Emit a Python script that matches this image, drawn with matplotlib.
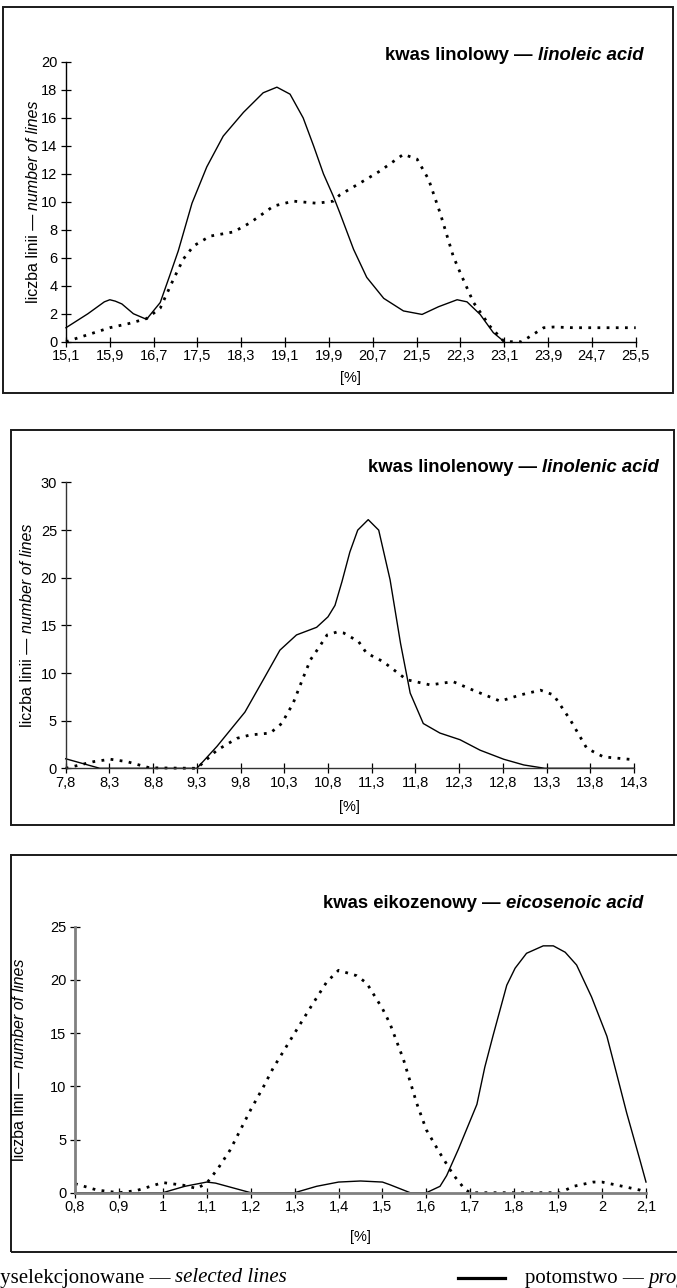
import matplotlib
matplotlib.use("Agg")
import matplotlib.pyplot as plt
from matplotlib.patches import Rectangle

W, H = 677, 1288

# ---- dane: kwas linolowy ----
lin_ticks = [15.1, 15.9, 16.7, 17.5, 18.3, 19.1, 19.9, 20.7, 21.5, 22.3, 23.1, 23.9, 24.7, 25.5]
lin_labels = ["15,1", "15,9", "16,7", "17,5", "18,3", "19,1", "19,9", "20,7", "21,5", "22,3", "23,1", "23,9", "24,7", "25,5"]
lin_x_prog = [15.1, 15.5, 15.8, 15.9, 16.0, 16.12, 16.33, 16.57, 16.82, 17.0, 17.15, 17.4, 17.67, 17.97, 18.34,
              18.7, 18.95, 19.19, 19.43, 19.62, 19.8, 19.98, 20.1, 20.35, 20.59, 20.9, 21.26, 21.6, 21.9, 22.24,
              22.42, 22.66, 22.9, 23.1]
lin_y_prog = [1.0, 2.0, 2.85, 3.0, 2.9, 2.7, 2.0, 1.6, 2.8, 4.8, 6.5, 9.9, 12.5, 14.7, 16.4,
              17.8, 18.2, 17.7, 16.0, 14.0, 12.0, 10.4, 9.2, 6.6, 4.6, 3.1, 2.2, 1.95, 2.5, 3.0,
              2.85, 1.95, 0.65, 0.0]
lin_x_sel = [15.1, 15.5, 15.9, 16.25, 16.57, 16.82, 17.06, 17.24, 17.43, 17.73, 18.16, 18.46, 18.89, 19.25,
             19.68, 19.98, 20.1, 20.47, 20.83, 21.26, 21.51, 21.72, 21.93, 22.17, 22.3, 22.54, 22.84, 23.1,
             23.42, 23.82, 24.0, 24.37, 25.5]
lin_y_sel = [0.0, 0.5, 1.0, 1.3, 1.65, 2.4, 4.45, 5.9, 6.85, 7.55, 7.85, 8.5, 9.7, 10.05,
             9.9, 10.05, 10.5, 11.35, 12.2, 13.4, 13.05, 11.6, 9.2, 6.1, 4.9, 2.8, 1.1, 0.0,
             0.0, 1.0, 1.05, 1.0, 1.0]

# ---- dane: kwas linolenowy ----
len_ticks = [7.8, 8.3, 8.8, 9.3, 9.8, 10.3, 10.8, 11.3, 11.8, 12.3, 12.8, 13.3, 13.8, 14.3]
len_labels = ["7,8", "8,3", "8,8", "9,3", "9,8", "10,3", "10,8", "11,3", "11,8", "12,3", "12,8", "13,3", "13,8", "14,3"]
len_x_prog = [7.8, 8.19, 9.3, 9.53, 9.85, 10.06, 10.25, 10.44, 10.67, 10.8, 10.88, 10.96, 11.05, 11.14,
              11.26, 11.38, 11.51, 11.63, 11.74, 11.89, 12.08, 12.31, 12.54, 12.81, 13.04, 13.28, 14.3]
len_y_prog = [1.0, 0.0, 0.0, 2.3, 5.9, 9.3, 12.4, 14.0, 14.8, 15.9, 17.1, 19.6, 22.7, 25.0,
              26.1, 25.0, 19.8, 13.1, 7.9, 4.7, 3.7, 3.0, 1.9, 0.95, 0.35, 0.0, 0.0]
len_x_sel = [7.8, 8.12, 8.31, 8.5, 8.76, 9.3, 9.53, 9.76, 9.91, 10.14, 10.27, 10.4, 10.52, 10.6, 10.69,
             10.79, 10.9, 10.98, 11.15, 11.24, 11.43, 11.7, 11.97, 12.23, 12.46, 12.77, 13.0, 13.23,
             13.38, 13.57, 13.76, 13.95, 14.3]
len_y_sel = [0.0, 0.7, 0.95, 0.7, 0.05, 0.0, 1.9, 3.15, 3.5, 3.7, 4.7, 6.8, 9.6, 11.4, 12.6,
             14.0, 14.3, 14.2, 13.3, 12.1, 11.2, 9.3, 8.75, 9.1, 8.2, 7.05, 7.7, 8.2,
             7.7, 5.1, 2.1, 1.2, 0.9]

# ---- dane: kwas eikozenowy ----
eic_ticks = [0.8, 0.9, 1.0, 1.1, 1.2, 1.3, 1.4, 1.5, 1.6, 1.7, 1.8, 1.9, 2.0, 2.1]
eic_labels = ["0,8", "0,9", "1", "1,1", "1,2", "1,3", "1,4", "1,5", "1,6", "1,7", "1,8", "1,9", "2", "2,1"]
eic_x_prog = [0.8, 1.0, 1.05, 1.1, 1.12, 1.2, 1.3, 1.35, 1.4, 1.45, 1.5, 1.517, 1.563, 1.6, 1.631,
              1.646, 1.673, 1.715, 1.733, 1.752, 1.783, 1.802, 1.828, 1.866, 1.889, 1.916, 1.942,
              1.976, 2.011, 2.033, 2.056, 2.086, 2.1]
eic_y_prog = [0.0, 0.0, 0.6, 1.0, 0.9, 0.0, 0.0, 0.6, 1.0, 1.1, 1.0, 0.75, 0.0, 0.0, 0.6,
              1.6, 4.1, 8.3, 11.8, 14.8, 19.5, 21.1, 22.5, 23.2, 23.2, 22.6, 21.4,
              18.4, 14.7, 11.2, 7.5, 3.1, 1.0]
eic_x_sel = [0.8, 0.85, 0.9, 0.94, 1.0, 1.047, 1.077, 1.1, 1.126, 1.153, 1.2, 1.229, 1.251, 1.3, 1.339,
             1.373, 1.4, 1.441, 1.464, 1.5, 1.517, 1.548, 1.578, 1.6, 1.631, 1.661, 1.688, 1.7,
             1.904, 1.935, 1.98, 2.0, 2.041, 2.086, 2.1]
eic_y_sel = [0.85, 0.25, 0.0, 0.2, 0.95, 0.7, 0.4, 0.9, 2.3, 4.0, 7.8, 9.95, 11.7, 15.0, 17.6,
             19.8, 20.9, 20.4, 19.7, 17.3, 15.9, 12.5, 8.4, 5.9, 3.7, 1.7, 0.3, 0.0,
             0.0, 0.6, 1.0, 1.0, 0.65, 0.25, 0.05]

plt.rcParams['font.family'] = ['Liberation Sans', 'DejaVu Sans']
plt.rcParams['lines.scale_dashes'] = False

fig = plt.figure(figsize=(W / 100, H / 100), dpi=100)
renderer = fig.canvas.get_renderer()


def px_rect(left, top, right, bottom):
    return [left / W, 1 - bottom / H, (right - left) / W, (bottom - top) / H]


def rich_text(x, y, parts, size, ha='right', rotation=0):
    # kilka kawalkow tekstu (rozne style) jeden za drugim, wspolrzedne w pikselach od gory
    texts = []
    for s, style, weight in parts:
        t = fig.text(0, 0, s, fontsize=size, style=style, weight=weight, ha='left', va='center',
                     rotation=rotation, rotation_mode='anchor')
        texts.append(t)
    if rotation == 0:
        sizes = [t.get_window_extent(renderer).width for t in texts]
    else:
        sizes = [t.get_window_extent(renderer).height for t in texts]
    total = sum(sizes)
    if ha == 'right':
        pos = x - total
    elif ha == 'center':
        pos = (x if rotation == 0 else (H - y)) - total / 2
    else:
        pos = x
    for t, s in zip(texts, sizes):
        if rotation == 0:
            t.set_position((pos / W, 1 - y / H))
        else:
            t.set_position((x / W, pos / H))
        pos += s


panels = [
    dict(box=(3, 7, 673, 393), ax=(66, 62, 635.7, 341.7), ymax=20, ystep=2,
         ticks=lin_ticks, labels=lin_labels, prog=(lin_x_prog, lin_y_prog), sel=(lin_x_sel, lin_y_sel),
         title=("kwas linolowy — ", "linoleic acid"), title_pos=(643, 55), ylab_x=34, xlab_y=378,
         axcol='black', axlw=1.0),
    dict(box=(10.8, 430, 673.5, 825), ax=(65.7, 482.5, 634, 768.3), ymax=30, ystep=5,
         ticks=len_ticks, labels=len_labels, prog=(len_x_prog, len_y_prog), sel=(len_x_sel, len_y_sel),
         title=("kwas linolenowy — ", "linolenic acid"), title_pos=(658.5, 468), ylab_x=28, xlab_y=807,
         axcol='#333333', axlw=1.0),
    dict(box=(10.8, 855, 700, 1252), ax=(75, 926.7, 646, 1192.7), ymax=25, ystep=5,
         ticks=eic_ticks, labels=eic_labels, prog=(eic_x_prog, eic_y_prog), sel=(eic_x_sel, eic_y_sel),
         title=("kwas eikozenowy — ", "eicosenoic acid"), title_pos=(643, 903), ylab_x=19, xlab_y=1237,
         axcol='#808080', axlw=2.0),
]

for p in panels:
    bl, bt, br, bb = p['box']
    fig.add_artist(Rectangle((bl / W, 1 - bb / H), (br - bl) / W, (bb - bt) / H, transform=fig.transFigure,
                             fill=False, edgecolor='#1a1a1a', linewidth=1.4))

    ax = fig.add_axes(px_rect(*p['ax']))
    ax.patch.set_alpha(0)
    ax.plot(p['sel'][0], p['sel'][1], color='black', linewidth=2.0, dashes=(2.0, 4.6), solid_capstyle='butt',
            dash_capstyle='butt', clip_on=False, zorder=3)
    ax.plot(p['prog'][0], p['prog'][1], color='black', linewidth=1.0, clip_on=False, zorder=2)
    ax.set_xlim(p['ticks'][0], p['ticks'][-1])
    ax.set_ylim(0, p['ymax'])
    ax.set_xticks(p['ticks'])
    ax.set_xticklabels(p['labels'])
    ax.set_yticks(range(0, p['ymax'] + 1, p['ystep']))
    for side in ['top', 'right']:
        ax.spines[side].set_visible(False)
    for side in ['left', 'bottom']:
        ax.spines[side].set_color(p['axcol'])
        ax.spines[side].set_linewidth(p['axlw'])
        ax.spines[side].set_zorder(4)
    ax.tick_params(direction='inout', length=6.5, width=0.9, color='black', labelsize=10.5, pad=2)
    ax.tick_params(axis='y', pad=3)

    a_l, a_t, a_r, a_b = p['ax']
    fig.text(((a_l + a_r) / 2) / W, 1 - p['xlab_y'] / H, "[%]", fontsize=10.5, ha='center', va='center')
    rich_text(p['title_pos'][0], p['title_pos'][1],
              [(p['title'][0], 'normal', 'bold'), (p['title'][1], 'italic', 'bold')], 13.3, ha='right')
    rich_text(p['ylab_x'], (a_t + a_b) / 2,
              [("liczba linii — ", 'normal', 'normal'), ("number of lines", 'italic', 'normal')],
              11.5, ha='center', rotation=90)

# legenda pod wykresami (przycieta na brzegach, jak w oryginale)
leg_y = 1 - 1278 / H
t1 = fig.text(0, leg_y, "wyselekcjonowane — ", fontsize=15, family='Liberation Serif', ha='left', va='center')
t2 = fig.text(0, leg_y, "selected lines", fontsize=15, family='Liberation Serif', style='italic',
              ha='left', va='center')
w1 = t1.get_window_extent(renderer).width
w2 = t2.get_window_extent(renderer).width
t1.set_x((287 - w1 - w2) / W)
t2.set_x((287 - w2) / W)

fig.add_artist(plt.Line2D([457.7 / W, 505 / W], [leg_y, leg_y], transform=fig.transFigure,
                          color='black', linewidth=2.3))
t3 = fig.text(524.6 / W, leg_y, "potomstwo — ", fontsize=15, family='Liberation Serif', ha='left', va='center')
w3 = t3.get_window_extent(renderer).width
fig.text((524.6 + w3) / W, leg_y, "progeny", fontsize=15, family='Liberation Serif', style='italic',
         ha='left', va='center')

fig.savefig("out.png", dpi=100)
